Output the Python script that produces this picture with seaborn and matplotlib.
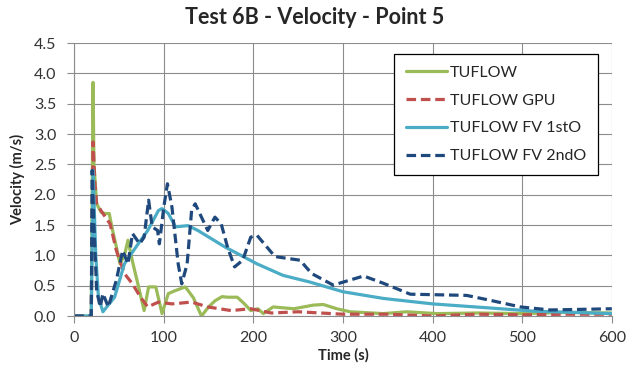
import numpy as np
import pandas as pd
import matplotlib
matplotlib.use("Agg")
import matplotlib.pyplot as plt
import seaborn as sns

# values
tuflow_t = [0, 19, 21, 22, 25, 30, 34, 39, 43, 47, 51, 56, 60, 65, 71, 78, 83, 91, 98, 105, 113, 124, 133, 142,
            150, 157, 165, 171, 182, 190, 197, 205, 211, 222, 245, 267, 278, 293, 308, 345, 371, 405, 450, 500, 550, 600]
tuflow_v = [0, 0, 3.85, 2.5, 1.85, 1.71, 1.69, 1.69, 1.4, 1.14, 0.86, 1.0, 1.25, 0.9, 0.53, 0.09, 0.48, 0.48, 0.04, 0.37,
            0.42, 0.48, 0.3, 0.0, 0.15, 0.25, 0.32, 0.31, 0.31, 0.2, 0.09, 0.12, 0.04, 0.15, 0.12, 0.18, 0.19, 0.12, 0.07,
            0.04, 0.07, 0.04, 0.05, 0.04, 0.06, 0.05]

gpu_t = [0, 19, 21, 23, 25, 32, 40, 47, 56, 65, 74, 82, 94, 109, 131, 149, 175, 197, 220, 250, 300, 350, 400, 450,
         500, 550, 600]
gpu_v = [0, 0, 2.87, 2.2, 1.85, 1.69, 1.52, 1.08, 0.70, 0.53, 0.31, 0.15, 0.23, 0.20, 0.23, 0.15, 0.09, 0.12, 0.05,
         0.07, 0.03, 0.03, 0.0, 0.03, 0.02, 0.03, 0.03]

fv1_t = [0, 19, 21, 24, 27, 32, 45, 56, 69, 82, 94, 98, 105, 113, 127, 138, 168, 204, 233, 263, 300, 345, 400, 457,
         513, 600]
fv1_v = [0, 0, 2.4, 1.0, 0.31, 0.07, 0.31, 0.86, 1.14, 1.41, 1.74, 1.77, 1.69, 1.47, 1.49, 1.41, 1.14, 0.86, 0.67,
         0.56, 0.40, 0.29, 0.20, 0.14, 0.08, 0.04]

fv2_t = [0, 19, 20, 22, 25, 29, 32, 38, 47, 54, 60, 65, 73, 78, 83, 87, 93, 95, 100, 104, 109, 116, 120, 126, 131,
         135, 142, 149, 157, 164, 171, 179, 188, 197, 204, 224, 252, 265, 289, 323, 345, 375, 438, 464, 498, 531, 600]
fv2_v = [0, 0, 2.40, 1.5, 0.42, 0.15, 0.37, 0.15, 0.59, 1.08, 0.86, 1.36, 1.19, 1.30, 1.91, 1.47, 1.41, 1.19, 1.80,
         2.18, 1.80, 0.86, 0.53, 0.86, 1.74, 1.85, 1.63, 1.41, 1.63, 1.52, 1.14, 0.81, 0.92, 1.30, 1.33, 0.98, 0.92,
         0.70, 0.51, 0.66, 0.54, 0.36, 0.34, 0.26, 0.15, 0.10, 0.12]

series = [
    ("TUFLOW", tuflow_t, tuflow_v, "#9BBB59", None),
    ("TUFLOW GPU", gpu_t, gpu_v, "#C0504D", (3, 1.5)),
    ("TUFLOW FV 1stO", fv1_t, fv1_v, "#4BACC6", None),
    ("TUFLOW FV 2ndO", fv2_t, fv2_v, "#1F497D", (3, 1.5)),
]

sns.set_style("whitegrid", {"grid.color": "#8c8c8c", "axes.edgecolor": "#8c8c8c"})
plt.rcParams["font.family"] = ["Lato", "DejaVu Sans"]

fig = plt.figure(figsize=(6.4, 3.74), dpi=100)
ax = fig.add_axes([0.116, 0.155, 0.84, 0.73])

for name, t, v, col, dash in series:
    df = pd.DataFrame({"t": t, "v": v})
    sns.lineplot(data=df, x="t", y="v", ax=ax, color=col, lw=2.3, label=name, sort=False)
    if dash is not None:
        ax.lines[-1].set_dashes(dash)

ax.set_xlim(0, 600)
ax.set_ylim(0, 4.5)
ax.set_xticks(np.arange(0, 601, 100))
ax.set_yticks(np.arange(0, 4.51, 0.5))
ax.set_yticklabels([f"{y:.1f}" for y in np.arange(0, 4.51, 0.5)])
ax.tick_params(labelsize=11.5, length=5, width=0.8, color="#8c8c8c", bottom=True, left=True,
               labelcolor="#333333")
ax.tick_params(axis="y", pad=8)
ax.tick_params(axis="x", pad=6)
ax.grid(True, lw=0.8)
for s in ["top", "right"]:
    ax.spines[s].set_visible(False)
ax.set_xlabel("Time (s)", fontsize=10.5, fontweight="bold", labelpad=2)
ax.set_ylabel("Velocity (m/s)", fontsize=10.5, fontweight="bold", labelpad=6)
fig.text(0.492, 0.952, "Test 6B - Velocity - Point 5", fontsize=15.5, fontweight="bold",
         ha="center", va="center")

leg = ax.legend(loc="upper right", bbox_to_anchor=(0.99, 0.99), fontsize=11.5, frameon=True, fancybox=False,
                edgecolor="black", framealpha=1, handlelength=2.6, handletextpad=0.2, labelspacing=0.85,
                borderpad=0.75)
leg.get_frame().set_linewidth(0.9)

fig.savefig("out.png", dpi=100)
